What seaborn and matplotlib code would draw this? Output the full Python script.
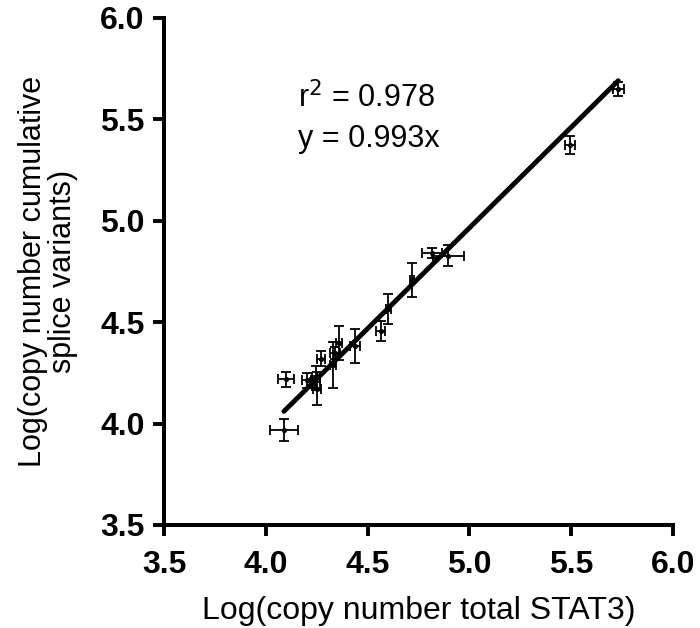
import numpy as np
import pandas as pd
import matplotlib
matplotlib.use("Agg")
import matplotlib.pyplot as plt
import seaborn as sns

# Data
stat3_total = [4.089, 4.099, 4.201, 4.242, 4.253, 4.245, 4.270, 4.329, 4.340, 4.361,
               4.438, 4.564, 4.602, 4.716, 4.818, 4.896, 5.494, 5.731]
splice_cum = [3.969, 4.218, 4.214, 4.205, 4.172, 4.225, 4.320, 4.287, 4.347, 4.396,
              4.383, 4.457, 4.564, 4.709, 4.840, 4.828, 5.373, 5.650]
x_err = [0.067, 0.038, 0.025, 0.025, 0.020, 0.020, 0.020, 0.015, 0.025, 0.015,
         0.026, 0.023, 0.012, 0.010, 0.049, 0.076, 0.025, 0.026]
y_err = [0.053, 0.036, 0.036, 0.030, 0.080, 0.060, 0.037, 0.113, 0.030, 0.083,
         0.084, 0.050, 0.074, 0.083, 0.025, 0.051, 0.043, 0.033]
slope = 0.993
r_squared = 0.978
ticks = [3.5, 4.0, 4.5, 5.0, 5.5, 6.0]

df = pd.DataFrame({"x": stat3_total, "y": splice_cum, "xerr": x_err, "yerr": y_err})
line_df = pd.DataFrame({"x": [min(stat3_total), max(stat3_total)]})
line_df["y"] = slope * line_df["x"]

sns.set_theme(style="ticks")
plt.rcParams["font.family"] = ["Liberation Sans", "DejaVu Sans"]
plt.rcParams["text.color"] = "black"
plt.rcParams["axes.labelcolor"] = "black"
plt.rcParams["xtick.color"] = "black"
plt.rcParams["ytick.color"] = "black"

fig = plt.figure(figsize=(7.0, 6.28), dpi=100)
ax = fig.add_axes([164 / 700, 1 - 525 / 628, (673 - 164) / 700, (525 - 18) / 628])

ax.errorbar(df["x"], df["y"], xerr=df["xerr"], yerr=df["yerr"], fmt="none",
            ecolor="black", elinewidth=1.3, capsize=3.8, capthick=1.3, zorder=2)
sns.scatterplot(data=df, x="x", y="y", ax=ax, color="black", s=14,
                edgecolor="black", linewidth=0, zorder=3)
sns.lineplot(data=line_df, x="x", y="y", ax=ax, color="black", linewidth=3.5, zorder=4)

ax.set_xlim(3.5, 6.0)
ax.set_ylim(3.5, 6.0)
ax.set_xticks(ticks)
ax.set_yticks(ticks)
ax.set_xticklabels([f"{t:.1f}" for t in ticks], fontsize=23, fontweight="bold")
ax.set_yticklabels([f"{t:.1f}" for t in ticks], fontsize=23, fontweight="bold")
ax.tick_params(axis="both", length=8, width=2.8, color="black")
ax.tick_params(axis="x", pad=10)
ax.tick_params(axis="y", pad=6)

for side in ["top", "right"]:
    ax.spines[side].set_visible(False)
for side in ["left", "bottom"]:
    ax.spines[side].set_linewidth(2.9)
    ax.spines[side].set_color("black")

ax.set_xlabel("Log(copy number total STAT3)", fontsize=23)
ax.xaxis.set_label_coords(0.5, -0.14)
ax.set_ylabel("Log(copy number cumulative\nsplice variants)", fontsize=22, linespacing=1.0)
ax.yaxis.set_label_coords(-0.168, 0.5)

ax.text(4.16, 5.56, f"r$^2$ = {r_squared:.3f}", fontsize=22, ha="left", va="baseline")
ax.text(4.16, 5.365, f"y = {slope:.3f}x", fontsize=22, ha="left", va="baseline")

fig.savefig("out.png", dpi=100)
